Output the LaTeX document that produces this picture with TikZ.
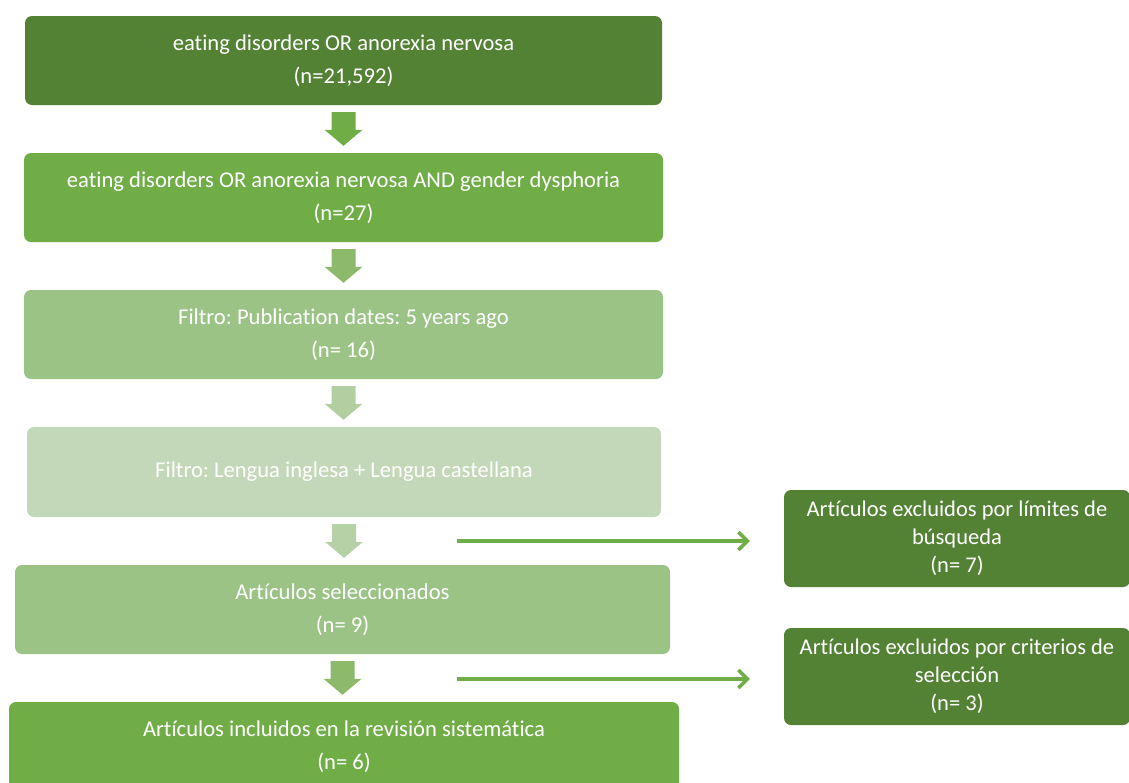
\documentclass[tikz,border=0pt]{standalone}
\usepackage{fontspec}
\setmainfont[Ligatures={NoCommon}]{Carlito}
\usetikzlibrary{calc,arrows.meta}

\definecolor{gdark}{HTML}{548235}
\definecolor{gmid}{HTML}{70AD47}
\definecolor{glight}{HTML}{9CC386}
\definecolor{gpale}{HTML}{C3D8B9}
\definecolor{arrA}{HTML}{70AD47}
\definecolor{arrB}{HTML}{8CBA6A}
\definecolor{arrC}{HTML}{B3CFA2}
\definecolor{arrD}{HTML}{B6D1A6}

% block arrow pointing down from one box to the next
\newcommand\blockarrow[3]{%
  \fill[#3] let \p1=(#1.south), \p2=(#2.north) in
    (\x1-12pt,\y1-7pt) -- (\x1+12pt,\y1-7pt) -- (\x1+12pt,\y2+23pt)
    -- (\x1+19pt,\y2+23pt) -- (\x1,\y2+7pt) -- (\x1-19pt,\y2+23pt)
    -- (\x1-12pt,\y2+23pt) -- cycle;}

\frenchspacing
\begin{document}
\begin{tikzpicture}[x=1pt,y=1pt,
  box/.style={rounded corners=7pt, inner sep=0pt, text=white, align=center,
    font=\fontsize{22.6}{33}\selectfont},
  sidebox/.style={box, font=\fontsize{22.5}{28}\selectfont,
    minimum width=346pt, minimum height=97pt, fill=gdark},
  hline/.style={draw=gmid, line width=3.5pt,
    -{Straight Barb[length=9pt,width=18pt]}, shorten >=34pt}]
\useasboundingbox (0,0) rectangle (1129,-782);
\clip (0,0) rectangle (1129,-782);

\node[box, fill=gdark, minimum width=637pt, minimum height=89pt] (b1) at (343.5,-60.5)
  {eating disorders OR anorexia nervosa\\(n=21,592)};
\node[box, fill=gmid, minimum width=639pt, minimum height=89pt] (b2) at (343.5,-197.5)
  {eating disorders OR anorexia nervosa AND gender dysphoria\\(n=27)};
\node[box, fill=glight, minimum width=639pt, minimum height=89pt] (b3) at (343.5,-334.5)
  {Filtro: Publication dates: 5 years ago\\(n= 16)};
\node[box, fill=gpale, minimum width=634pt, minimum height=90pt] (b4) at (344,-472)
  {Filtro: Lengua inglesa + Lengua castellana};
\node[box, fill=glight, minimum width=655pt, minimum height=89pt] (b5) at (342.5,-609.5)
  {Artículos seleccionados\\(n= 9)};
\node[box, fill=gmid, minimum width=670pt, minimum height=89pt] (b6) at (344,-746.5)
  {Artículos incluidos en la revisión sistemática\\(n= 6)};

\node[sidebox] (r1) at (957,-538.5)
  {Artículos excluidos por límites de\\búsqueda\\(n= 7)};
\node[sidebox] (r2) at (957,-676.5)
  {Artículos excluidos por criterios de\\selección\\(n= 3)};

\blockarrow{b1}{b2}{arrA}
\blockarrow{b2}{b3}{arrB}
\blockarrow{b3}{b4}{arrC}
\blockarrow{b4}{b5}{arrD}
\blockarrow{b5}{b6}{arrB}

\coordinate (s1) at (457,-541);
\coordinate (s2) at (457,-679);
\draw[hline] (s1) -- (s1 -| r1.west);
\draw[hline] (s2) -- (s2 -| r2.west);
\end{tikzpicture}
\end{document}
